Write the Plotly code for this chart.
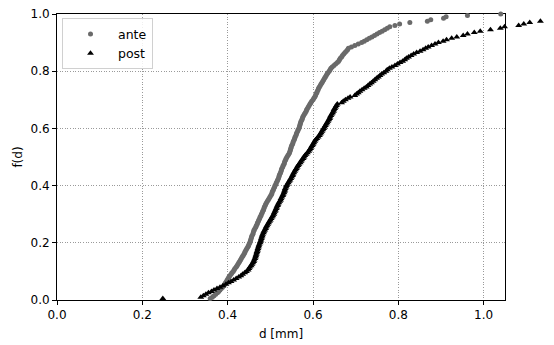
import pandas as pd
import plotly.express as px
import plotly.graph_objects as go

# particle diameters [mm], sorted
ante_d = [
    0.359, 0.364, 0.368, 0.372, 0.376, 0.379, 0.382, 0.385, 0.388, 0.391,
    0.393, 0.395, 0.397, 0.399, 0.401, 0.403, 0.405, 0.408, 0.410, 0.413,
    0.415, 0.417, 0.420, 0.422, 0.424, 0.426, 0.428, 0.430, 0.432, 0.434,
    0.436, 0.438, 0.440, 0.441, 0.443, 0.445, 0.447, 0.449, 0.450, 0.452,
    0.453, 0.454, 0.455, 0.456, 0.457, 0.459, 0.460, 0.461, 0.462, 0.464,
    0.466, 0.467, 0.469, 0.470, 0.472, 0.473, 0.475, 0.476, 0.478, 0.479,
    0.481, 0.482, 0.484, 0.485, 0.486, 0.488, 0.489, 0.491, 0.493, 0.495,
    0.497, 0.499, 0.501, 0.503, 0.504, 0.505, 0.507, 0.508, 0.510, 0.511,
    0.513, 0.514, 0.516, 0.517, 0.519, 0.520, 0.521, 0.522, 0.524, 0.525,
    0.526, 0.527, 0.529, 0.530, 0.532, 0.533, 0.534, 0.536, 0.537, 0.539,
    0.541, 0.543, 0.545, 0.546, 0.547, 0.548, 0.549, 0.550, 0.552, 0.553,
    0.554, 0.556, 0.557, 0.558, 0.560, 0.561, 0.562, 0.564, 0.565, 0.567,
    0.568, 0.569, 0.570, 0.571, 0.572, 0.574, 0.575, 0.576, 0.578, 0.580,
    0.582, 0.584, 0.585, 0.587, 0.589, 0.591, 0.593, 0.595, 0.597, 0.600,
    0.602, 0.604, 0.606, 0.607, 0.609, 0.610, 0.612, 0.613, 0.615, 0.617,
    0.619, 0.621, 0.623, 0.625, 0.627, 0.629, 0.631, 0.633, 0.635, 0.638,
    0.640, 0.642, 0.645, 0.649, 0.653, 0.657, 0.660, 0.662, 0.664, 0.667,
    0.669, 0.672, 0.675, 0.678, 0.681, 0.683, 0.690, 0.698, 0.706, 0.714,
    0.720, 0.726, 0.732, 0.738, 0.744, 0.750, 0.756, 0.762, 0.768, 0.774,
    0.780, 0.792, 0.803, 0.827, 0.868, 0.876, 0.906, 0.912, 0.962, 1.040,
]

post_d = [
    0.248, 0.337, 0.343, 0.349, 0.355, 0.362, 0.368, 0.375, 0.382, 0.389,
    0.396, 0.402, 0.408, 0.414, 0.420, 0.426, 0.431, 0.435, 0.440, 0.444,
    0.448, 0.450, 0.452, 0.455, 0.457, 0.459, 0.461, 0.462, 0.464, 0.465,
    0.466, 0.467, 0.468, 0.469, 0.470, 0.471, 0.472, 0.473, 0.474, 0.476,
    0.477, 0.478, 0.479, 0.480, 0.481, 0.482, 0.484, 0.485, 0.487, 0.489,
    0.490, 0.492, 0.494, 0.496, 0.498, 0.500, 0.502, 0.504, 0.506, 0.508,
    0.509, 0.511, 0.512, 0.514, 0.515, 0.517, 0.518, 0.520, 0.522, 0.524,
    0.525, 0.527, 0.529, 0.530, 0.532, 0.533, 0.534, 0.535, 0.537, 0.538,
    0.540, 0.542, 0.544, 0.546, 0.548, 0.550, 0.552, 0.553, 0.555, 0.557,
    0.559, 0.561, 0.563, 0.565, 0.567, 0.570, 0.572, 0.574, 0.577, 0.579,
    0.581, 0.584, 0.587, 0.590, 0.592, 0.594, 0.596, 0.598, 0.600, 0.602,
    0.604, 0.606, 0.609, 0.612, 0.615, 0.617, 0.619, 0.621, 0.623, 0.625,
    0.627, 0.629, 0.631, 0.633, 0.635, 0.637, 0.639, 0.640, 0.642, 0.644,
    0.646, 0.648, 0.649, 0.651, 0.653, 0.655, 0.657, 0.667, 0.671, 0.676,
    0.682, 0.687, 0.698, 0.702, 0.706, 0.710, 0.715, 0.720, 0.725, 0.729,
    0.733, 0.737, 0.741, 0.745, 0.749, 0.753, 0.757, 0.761, 0.766, 0.771,
    0.774, 0.779, 0.785, 0.792, 0.798, 0.804, 0.810, 0.815, 0.819, 0.824,
    0.830, 0.836, 0.843, 0.851, 0.858, 0.864, 0.870, 0.878, 0.886, 0.894,
    0.905, 0.913, 0.925, 0.937, 0.952, 0.962, 0.978, 0.992, 1.016, 1.039,
    1.049, 1.082, 1.094, 1.108, 1.133, 1.164, 1.190, 1.220, 1.270, 1.350,
]

groups = ["ante", "post"]
colors = ["#6a6a6a", "#000000"]
symbols = ["circle", "triangle-up"]
sizes = [5, 6]
x_ticks = [0.0, 0.2, 0.4, 0.6, 0.8, 1.0]
y_ticks = [0.0, 0.2, 0.4, 0.6, 0.8, 1.0]
x_max = 1.05

df = pd.DataFrame({
    "d": ante_d + post_d,
    "group": [groups[0]] * len(ante_d) + [groups[1]] * len(post_d),
})

fig = px.ecdf(df, x="d", color="group", markers=True, lines=False,
              color_discrete_sequence=colors, category_orders={"group": groups})

for g, sym, sz, c in zip(groups, symbols, sizes, colors):
    fig.update_traces(selector=dict(name=g),
                      mode="markers",
                      marker=dict(symbol=sym, size=sz, color=c, line=dict(width=0)),
                      cliponaxis=False, xaxis="x2", yaxis="y2")

# empty trace so the visible (framed) axes are drawn
fig.add_trace(go.Scatter(x=[], y=[], xaxis="x", yaxis="y", showlegend=False, hoverinfo="skip"))

W, H = 554, 345
ml, mr, mt, mb = 57, 1, 14, 45
plot_w = W - ml - mr
frame_right_px = 505
dom_end = (frame_right_px - ml) / plot_w
x2_max = x_max / dom_end

font_family = "DejaVu Sans, Arial, sans-serif"
fs = 12
axis_common = dict(
    showgrid=True, gridcolor="#9a9a9a", griddash="1px,1.6px", gridwidth=1,
    showline=True, linecolor="#000000", linewidth=1, mirror=True,
    ticks="outside", ticklen=4, tickwidth=1, tickcolor="#000000",
    zeroline=False, tickformat=".1f",
    tickfont=dict(family=font_family, size=fs, color="#000000"),
)

fig.update_layout(
    width=W, height=H,
    margin=dict(l=ml, r=mr, t=mt, b=mb),
    paper_bgcolor="#ffffff", plot_bgcolor="rgba(0,0,0,0)",
    font=dict(family=font_family, size=fs, color="#000000"),
    xaxis=dict(domain=[0, dom_end], range=[0, x_max], tickvals=x_ticks, anchor="y",
               title=dict(text="d [mm]", font=dict(family=font_family, size=fs, color="#000000"), standoff=8),
               **axis_common),
    yaxis=dict(domain=[0, 1], range=[0, 1.0], tickvals=y_ticks, anchor="x",
               title=dict(text="f(d)", font=dict(family=font_family, size=fs, color="#000000"), standoff=5),
               **axis_common),
    xaxis2=dict(domain=[0, 1], range=[0, x2_max], anchor="y2", visible=False, showgrid=False, zeroline=False),
    yaxis2=dict(domain=[0, 1], range=[0, 1.0], anchor="x2", visible=False, showgrid=False, zeroline=False),
    legend=dict(title=dict(text=""), x=(62 - ml) / plot_w, y=0.985, xanchor="left", yanchor="top",
                bordercolor="#d0d0d0", borderwidth=1, bgcolor="rgba(255,255,255,0.85)",
                font=dict(family=font_family, size=12.5, color="#000000"),
                itemsizing="trace", itemwidth=45, tracegroupgap=0),
    showlegend=True,
)

fig.write_html("out.html")
